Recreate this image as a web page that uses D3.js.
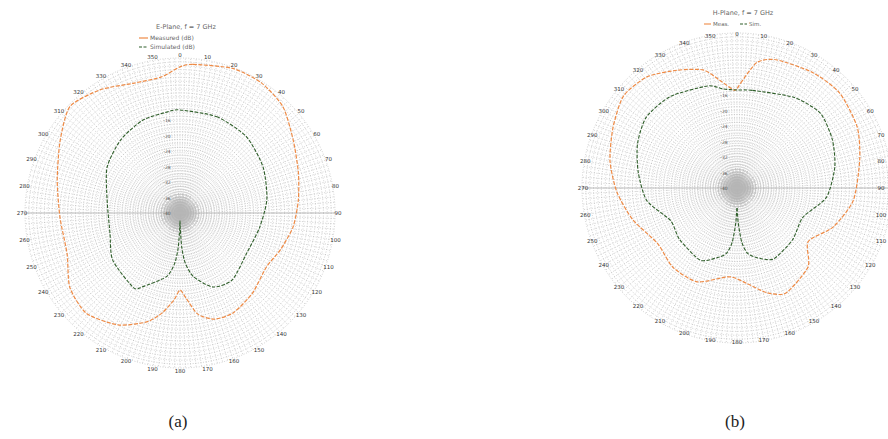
<!DOCTYPE html>
<html>
<head>
<meta charset="utf-8">
<script src="https://cdn.jsdelivr.net/npm/d3@7"></script>
<style>
  html, body { margin: 0; padding: 0; background: #fff; }
  svg { display: block; }
</style>
</head>
<body>
<svg id="chart" width="888" height="439"></svg>
<script>
// Polar radiation patterns, normalised gain in dB.

// (a) measured pattern: angle (deg) / gain (dB)
const angA_meas = [0, 5, 20, 32, 44, 57, 71, 84, 97, 110, 122, 138, 152, 162, 170, 176, 180, 184, 190, 197, 209, 223, 236, 250, 268, 285, 301, 314, 327, 340, 352];
const valA_meas = [-2.3, -1.5, -0.3, -0.4, -1.8, -5.2, -7.7, -9.3, -10.6, -12.4, -13.7, -12.1, -10.8, -11.2, -13.5, -18.0, -20.1, -17.5, -13.9, -10.6, -7.0, -4.6, -5.7, -9.0, -9.0, -7.2, -3.9, -0.5, -2.1, -4.4, -4.6];

// (a) simulated pattern
const angA_sim = [0, 21, 41, 61, 81, 100, 121, 142, 156, 168, 174, 177, 179, 180, 181, 183, 186, 192, 207, 212, 235, 254, 280, 302, 321, 338, 353];
const valA_sim = [-13.4, -13.4, -13.9, -15.5, -17.3, -19.1, -19.9, -18.1, -19.1, -23.2, -27.0, -31.0, -36.0, -38.0, -36.0, -31.0, -27.0, -23.2, -18.6, -17.3, -18.8, -21.2, -20.9, -17.8, -15.7, -14.2, -13.7];

// (b) measured pattern
const angB_meas = [0, 2, 9, 17, 33, 47, 63, 77, 96, 112, 127, 138, 155, 164, 174, 185, 203, 219, 235, 253, 268, 282, 296, 309, 321, 333, 344, 351, 358];
const valB_meas = [-14.4, -12.9, -7.2, -5.4, -4.4, -3.9, -5.2, -7.5, -9.8, -13.2, -17.0, -12.6, -10.1, -11.9, -15.2, -17.0, -13.7, -13.7, -15.0, -11.9, -9.0, -6.5, -4.4, -2.3, -3.1, -5.9, -8.3, -11.9, -14.7];

// (b) simulated pattern
const angB_sim = [0, 9, 32, 48, 63, 78, 96, 114, 133, 153, 165, 171, 175, 178, 180, 182, 185, 189, 195, 207, 228, 244, 262, 279, 294, 308, 324, 344, 352];
const valB_sim = [-14.7, -14.5, -12.4, -11.1, -12.4, -14.2, -16.8, -21.4, -20.4, -19.4, -21.5, -23.0, -26.0, -31.0, -35.0, -31.0, -26.0, -23.0, -21.5, -19.1, -20.1, -20.9, -16.5, -14.2, -11.9, -10.3, -10.8, -12.6, -14.2];

// Angular tick labels and radial tick labels
const angleTicks = d3.range(0, 360, 10);
const radialTicks = [-40, -36, -32, -28, -24, -20, -16];

const titles = ["E-Plane, f = 7 GHz", "H-Plane, f = 7 GHz"];
const legendNames = ["Measured (dB)", "Simulated (dB)"];
const legendShort = ["Meas.", "Sim."];
const captions = ["(a)", "(b)"];

const COLOR_MEAS = "#ee8a45";
const COLOR_SIM = "#2f5e2a";

// hub spoke lengths (dB) cycle so the dense centre has a soft edge
const hubLengths = [-35.2, -36.6, -35.8, -37.2, -34.8, -36.2];

const svg = d3.select("#chart");

const panels = [
  { cx: 180, cy: 213, R: 155, labelR: 158, title: titles[0], caption: captions[0], capX: 178,
    meas: d3.zip(angA_meas, valA_meas), sim: d3.zip(angA_sim, valA_sim), legend: "stack",
    titleY: 29 },
  { cx: 737, cy: 188, R: 155, labelR: 154, title: titles[1], caption: captions[1], capX: 735,
    meas: d3.zip(angB_meas, valB_meas), sim: d3.zip(angB_sim, valB_sim), legend: "row",
    titleY: 15 }
];

panels.forEach(p => {
  const g = svg.append("g").attr("transform", `translate(${p.cx},${p.cy})`);
  const r = d3.scaleLinear().domain([-40, 0]).range([0, p.R]).clamp(true);
  const a = d3.scaleLinear().domain([0, 360]).range([0, 2 * Math.PI]);

  // dense dotted grid: rings every 1 dB, spokes every 2 degrees
  const grid = g.append("g").attr("class", "grid");
  grid.selectAll("circle.ring").data(d3.range(-39, 1, 1)).join("circle")
    .attr("class", "ring")
    .attr("r", d => r(d))
    .attr("fill", "none")
    .attr("stroke", "#b0b0b0")
    .attr("stroke-width", 0.6)
    .attr("stroke-dasharray", "1,1.6");
  grid.selectAll("line.spoke").data(d3.range(0, 360, 2)).join("line")
    .attr("class", "spoke")
    .attr("x1", 0).attr("y1", 0)
    .attr("x2", d => r(0) * Math.sin(a(d)))
    .attr("y2", d => -r(0) * Math.cos(a(d)))
    .attr("stroke", "#ababab")
    .attr("stroke-width", 0.55)
    .attr("stroke-dasharray", "1,1.6");
  // spokes merge into a solid hub near the origin
  grid.selectAll("line.hub").data(d3.range(0, 360, 2)).join("line")
    .attr("class", "hub")
    .attr("x1", 0).attr("y1", 0)
    .attr("x2", (d, i) => r(hubLengths[i % hubLengths.length]) * Math.sin(a(d)))
    .attr("y2", (d, i) => -r(hubLengths[i % hubLengths.length]) * Math.cos(a(d)))
    .attr("stroke", "#b6b6b6")
    .attr("stroke-width", 0.55);

  // solid horizontal axis
  g.append("line")
    .attr("x1", -r(0)).attr("x2", r(0)).attr("y1", 0).attr("y2", 0)
    .attr("stroke", "#b8b8b8").attr("stroke-width", 0.9);

  // radial tick labels along the 0° spoke
  g.selectAll("text.rt").data(radialTicks).join("text")
    .attr("class", "rt")
    .attr("x", -13).attr("y", d => -r(d) + 2)
    .attr("text-anchor", "middle")
    .attr("font-family", "DejaVu Sans, sans-serif")
    .attr("font-size", 4.5)
    .attr("fill", "#555")
    .text(d => d);

  // angular labels, kept inside the drawing area
  g.selectAll("text.at").data(angleTicks).join("text")
    .attr("class", "at")
    .attr("x", d => {
      const x = p.labelR * Math.sin(a(d));
      return Math.max(8 - p.cx, Math.min(881 - p.cx, x));
    })
    .attr("y", d => -p.labelR * Math.cos(a(d)) + 2)
    .attr("text-anchor", "middle")
    .attr("font-family", "DejaVu Sans, sans-serif")
    .attr("font-size", 5.5)
    .attr("fill", "#333")
    .text(d => d);

  const line = d3.lineRadial()
    .angle(d => a(d[0]))
    .radius(d => r(d[1]))
    .curve(d3.curveCardinalClosed.tension(0.3));

  g.append("path").datum(p.meas)
    .attr("d", line)
    .attr("fill", "none")
    .attr("stroke", COLOR_MEAS)
    .attr("stroke-width", 1.2)
    .attr("stroke-dasharray", "4,1.5");

  g.append("path").datum(p.sim)
    .attr("d", line)
    .attr("fill", "none")
    .attr("stroke", COLOR_SIM)
    .attr("stroke-width", 1.1)
    .attr("stroke-dasharray", "3.5,1.5");

  // title and legend
  const top = svg.append("g").attr("font-family", "DejaVu Sans, sans-serif").attr("fill", "#666");
  top.append("text")
    .attr("x", p.cx + 6).attr("y", p.titleY)
    .attr("text-anchor", "middle")
    .attr("font-size", 6.5)
    .text(p.title);

  const entries = [
    { name: legendNames[0], short: legendShort[0], color: COLOR_MEAS, dash: null },
    { name: legendNames[1], short: legendShort[1], color: COLOR_SIM, dash: "3,1.5" }
  ];
  if (p.legend === "stack") {
    entries.forEach((e, i) => {
      const y = p.titleY + 11 + i * 9;
      top.append("line")
        .attr("x1", p.cx - 41).attr("x2", p.cx - 32).attr("y1", y - 2).attr("y2", y - 2)
        .attr("stroke", e.color).attr("stroke-width", 1.2)
        .attr("stroke-dasharray", e.dash);
      top.append("text")
        .attr("x", p.cx - 30).attr("y", y)
        .attr("font-size", 6)
        .text(e.name);
    });
  } else {
    entries.forEach((e, i) => {
      const x = p.cx - 24 + i * 36;
      const y = p.titleY + 11;
      top.append("line")
        .attr("x1", x - 9).attr("x2", x - 2).attr("y1", y - 2).attr("y2", y - 2)
        .attr("stroke", e.color).attr("stroke-width", 1.1)
        .attr("stroke-dasharray", e.dash);
      top.append("text")
        .attr("x", x).attr("y", y)
        .attr("font-size", 5.5)
        .text(e.short);
    });
  }

  svg.append("text")
    .attr("x", p.capX).attr("y", 427)
    .attr("text-anchor", "middle")
    .attr("font-family", "Liberation Serif, serif")
    .attr("font-size", 17)
    .attr("fill", "#222")
    .text(p.caption);
});
</script>
</body>
</html>
